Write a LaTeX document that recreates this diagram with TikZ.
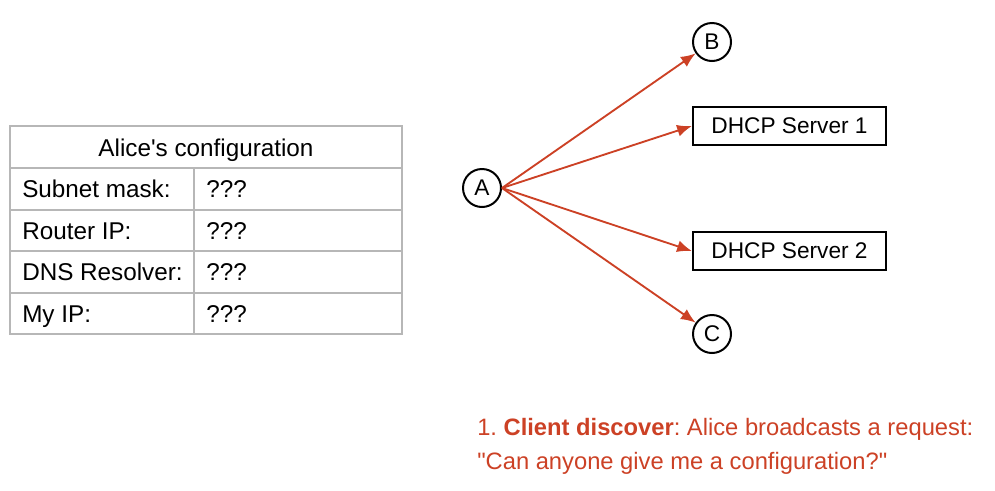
\documentclass[tikz,border=0pt]{standalone}
\usepackage{fontspec}
\setmainfont{Liberation Sans}
\usetikzlibrary{arrows.meta,positioning}
\definecolor{Req}{HTML}{CC4125}
\definecolor{Grid}{HTML}{B7B7B7}
\frenchspacing

\begin{document}
\begin{tikzpicture}[x=0.75pt, y=-0.75pt, font=\fontsize{17}{25.5}\selectfont]
		\tikzstyle{Vertex} 	= [circle, draw, line width=1.5pt, fill=white, minimum size=28.5pt, inner sep=0pt]
		\tikzstyle{Server}	= [rectangle, draw, line width=1.5pt, minimum width=145pt, minimum height=28.5pt, inner sep=0pt]
		\tikzstyle{Cell}	= [anchor=base west, inner sep=0pt, font=\fontsize{18.2}{22}\selectfont]
		\tikzstyle{Bcast}	= [-{Latex[length=11pt, width=9pt]}, line width=1.4pt, Req]
		\tikzstyle{Table}	= [line width=0.8pt, Grid]

		\useasboundingbox (0,0) rectangle (995,490);

		% table
		\draw [Table] (10,126) rectangle (402,334);
		\draw [Table] (10,168) -- (402,168);
		\draw [Table] (10,210) -- (402,210);
		\draw [Table] (10,251) -- (402,251);
		\draw [Table] (10,293) -- (402,293);
		\draw [Table] (194,168) -- (194,334);

		\node (title) at (206,156) [Cell, anchor=base] {Alice\textquotesingle s configuration};
		\node (mask) at (22,197) [Cell] {Subnet mask:};
		\node (router) at (22,239) [Cell] {Router IP:};
		\node (dns) at (22,280.5) [Cell] {DNS Resolver:};
		\node (myip) at (22,322) [Cell] {My IP:};
		\node (maskval) at (206,197) [Cell] {???};
		\node (routerval) at (206,239) [Cell] {???};
		\node (dnsval) at (206,280.5) [Cell] {???};
		\node (myipval) at (206,322) [Cell] {???};

		% hosts
		\node (A) at (482,188) [Vertex] {A};
		\node (B) at (712,42) [Vertex] {B};
		\node (C) at (712,334) [Vertex] {C};
		\node (S1) at (789.5,126) [Server] {DHCP Server 1};
		\node (S2) at (789.5,251) [Server] {DHCP Server 2};

		\draw (A.east) to (B) [Bcast];
		\draw (A.east) to (S1.west) [Bcast];
		\draw (A.east) to (S2.west) [Bcast];
		\draw (A.east) to (C) [Bcast];

		\node (step) at (477,418) [anchor=north west, align=left, inner sep=0pt, text=Req, font=\fontsize{17.8}{25.5}\selectfont]
			{1. \textbf{Client discover}: Alice broadcasts a request:\\\textquotedbl Can anyone give me a configuration?\textquotedbl};
	\end{tikzpicture}
\end{document}
